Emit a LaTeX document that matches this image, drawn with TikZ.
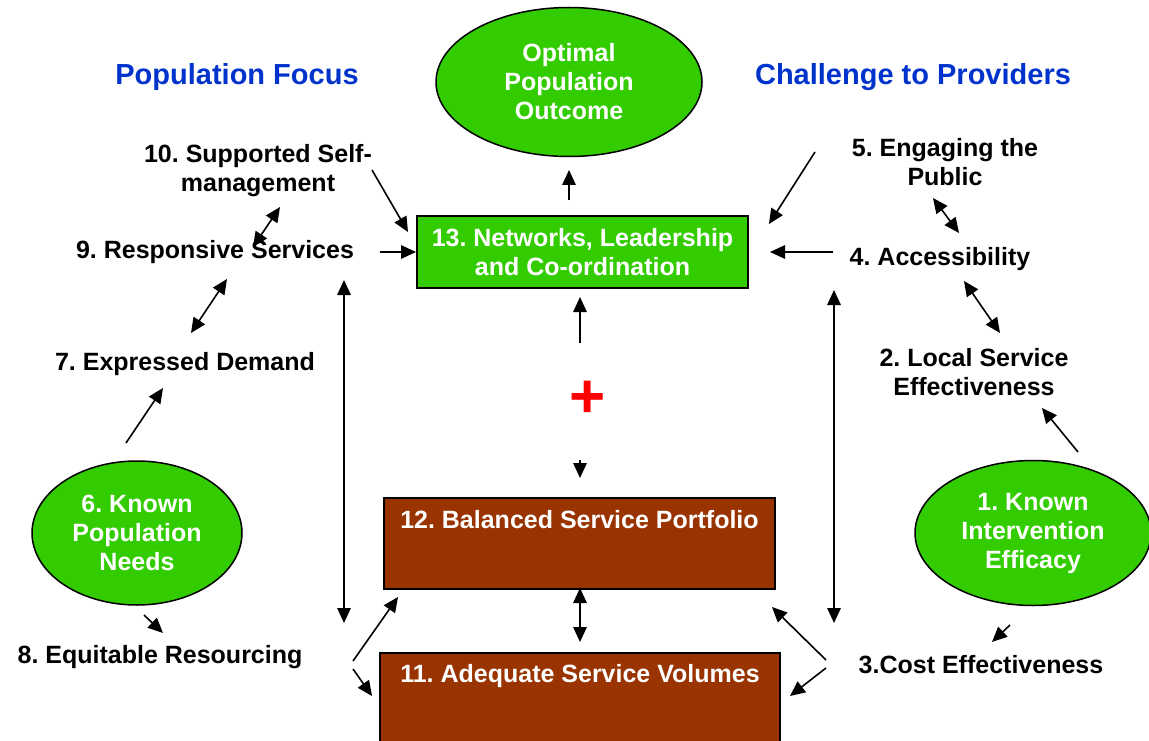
\documentclass[tikz,border=0pt]{standalone}
\usepackage{fontspec}
\setmainfont{Liberation Sans}
\usetikzlibrary{shapes.geometric,arrows.meta}
\definecolor{nodeGreen}{RGB}{51,204,0}
\definecolor{nodeBrown}{RGB}{153,51,0}
\definecolor{titleBlue}{RGB}{0,51,204}
\frenchspacing
\tikzset{green node/.style={ellipse,draw,fill=nodeGreen,line width=1.5pt,inner sep=0pt,text=white,align=center,font=\bfseries\fontsize{25}{29}\selectfont}}
\tikzset{box node/.style={rectangle,draw,line width=1.8pt,inner sep=0pt,text=white,font=\bfseries\fontsize{25}{29}\selectfont}}
\tikzset{label node/.style={inner sep=0pt,align=center,font=\bfseries\fontsize{25}{29}\selectfont}}
\tikzset{title node/.style={inner sep=0pt,text=titleBlue,font=\bfseries\fontsize{29}{33}\selectfont}}

\begin{document}
\begin{tikzpicture}[x=1pt,y=-1pt,line width=1.6pt,>={Triangle[length=15pt,width=13.5pt]}]
    \clip (0,0) rectangle (1149,741);

    % headings
    \node[title node] (pf) at (237,77) {Population Focus};
    \node[title node] (cp) at (913,77) {Challenge to Providers};

    % centre column
    \node[green node,minimum width=266pt,minimum height=149pt] (opt) at (569,82) {Optimal\\Population\\Outcome};
    \node[box node,fill=nodeGreen,align=center,minimum width=331pt,minimum height=72pt] (net) at (582.5,252) {13. Networks, Leadership\\and Co-ordination};
    \node[text=red,inner sep=0pt,font=\bfseries\fontsize{62}{62}\selectfont] (plus) at (588,399) {+};
    \node[box node,fill=nodeBrown,anchor=north,minimum width=391pt,text height=31pt,text depth=60pt] (bsp) at (579.5,497) {12. Balanced Service Portfolio};
    \node[box node,fill=nodeBrown,anchor=north,minimum width=400pt,text height=30pt,text depth=90pt] (asv) at (580,652) {11. Adequate Service Volumes};

    % left side
    \node[label node] (ssm) at (258,171) {10. Supported Self-\\management};
    \node[label node] (rs) at (215,252) {9. Responsive Services};
    \node[label node] (ed) at (185,364) {7. Expressed Demand};
    \node[green node,minimum width=210pt,minimum height=144pt] (kpn) at (137,533) {6. Known\\Population\\Needs};
    \node[label node] (er) at (160,657) {8. Equitable Resourcing};

    % right side
    \node[label node] (ep) at (945,162) {5. Engaging the\\Public};
    \node[label node] (acc) at (940,259) {4. Accessibility};
    \node[label node] (lse) at (974,372) {2. Local Service\\Effectiveness};
    \node[green node,minimum width=236pt,minimum height=145pt] (kie) at (1033,533) {1. Known\\Intervention\\Efficacy};
    \node[label node] (ce) at (981,665) {3.Cost Effectiveness};

    % arrow ends
    \coordinate (net top) at (569,200);   \coordinate (opt in) at (569,170);
    \coordinate (ssm out) at (372,170);   \coordinate (net nw) at (408,232);
    \coordinate (rs out) at (380,252);    \coordinate (net w) at (416,252);
    \coordinate (rs up) at (253,247);     \coordinate (ssm dn) at (280,207);
    \coordinate (ed up) at (191,333);     \coordinate (rs dn) at (227,279);
    \coordinate (kpn up) at (126,443);    \coordinate (ed dn) at (163,388);
    \coordinate (kpn dn) at (144,615);    \coordinate (er up) at (163,633);
    \coordinate (left top) at (344,280);  \coordinate (left bot) at (344,623);
    \coordinate (er a) at (353,661);      \coordinate (bsp sw) at (398,597);
    \coordinate (er b) at (353,669);      \coordinate (asv nw) at (372,696);
    \coordinate (bsp s) at (580,588);     \coordinate (asv n) at (580,642);
    \coordinate (plus up) at (580,343);   \coordinate (net s) at (580,297);
    \coordinate (plus dn) at (580,460);   \coordinate (bsp n) at (580,478);
    \coordinate (ep out) at (815,152);    \coordinate (net ne) at (769,224);
    \coordinate (acc out) at (833,252);   \coordinate (net e) at (770,252);
    \coordinate (ep dn) at (933,198);     \coordinate (acc up) at (959,233);
    \coordinate (acc dn) at (964,281);    \coordinate (lse up) at (1000,333);
    \coordinate (kie up) at (1078,452);   \coordinate (lse dn) at (1042,408);
    \coordinate (right top) at (834,290); \coordinate (right bot) at (834,623);
    \coordinate (kie dn) at (1010,625);   \coordinate (ce up) at (992,642);
    \coordinate (ce a) at (826,660);      \coordinate (bsp se) at (772,607);
    \coordinate (ce b) at (826,668);      \coordinate (asv ne) at (790,696);

    \draw[->] (net top) -- (opt in);
    \draw[->] (ssm out) -- (net nw);
    \draw[->] (rs out) -- (net w);
    \draw[<->] (rs up) -- (ssm dn);
    \draw[<->] (ed up) -- (rs dn);
    \draw[->] (kpn up) -- (ed dn);
    \draw[->] (kpn dn) -- (er up);
    \draw[<->] (left top) -- (left bot);
    \draw[->] (er a) -- (bsp sw);
    \draw[->] (er b) -- (asv nw);
    \draw[<->] (bsp s) -- (asv n);
    \draw[->] (plus up) -- (net s);
    \draw[->] (plus dn) -- (bsp n);
    \draw[->] (ep out) -- (net ne);
    \draw[->] (acc out) -- (net e);
    \draw[<->] (ep dn) -- (acc up);
    \draw[<->] (acc dn) -- (lse up);
    \draw[->] (kie up) -- (lse dn);
    \draw[<->] (right top) -- (right bot);
    \draw[->] (kie dn) -- (ce up);
    \draw[->] (ce a) -- (bsp se);
    \draw[->] (ce b) -- (asv ne);
\end{tikzpicture}
\end{document}
